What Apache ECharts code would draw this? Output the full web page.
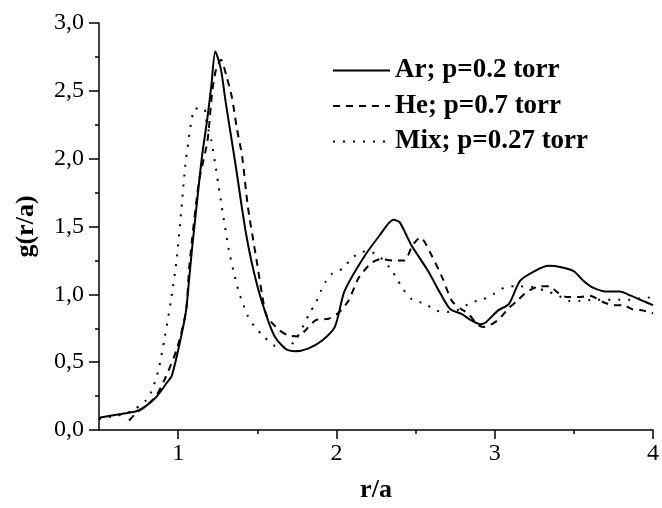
<!DOCTYPE html>
<html>
<head>
<meta charset="utf-8">
<script src="https://cdn.jsdelivr.net/npm/echarts@6/dist/echarts.min.js"></script>
<style>
html,body{margin:0;padding:0;background:#fff;}
#chart{width:662px;height:508px;}
</style>
</head>
<body>
<div id="chart"></div>
<script>
// ---- data ----
var seriesNames = ['Ar; p=0.2 torr', 'He; p=0.7 torr', 'Mix; p=0.27 torr'];
var xTickLabels = [1, 2, 3, 4];
var xHalfTicks = [1.5, 2.5, 3.5];

var arX = [0.5, 0.65, 0.74, 0.80, 0.86, 0.93, 0.96, 1.01, 1.05, 1.07, 1.09, 1.11, 1.15, 1.185, 1.21, 1.235, 1.27, 1.30, 1.335, 1.37, 1.40, 1.43, 1.46, 1.49, 1.52, 1.55, 1.58, 1.61, 1.65, 1.69, 1.74, 1.82, 1.91, 1.99, 2.05, 2.16, 2.27, 2.36, 2.40, 2.47, 2.58, 2.66, 2.72, 2.79, 2.85, 2.91, 2.94, 3.02, 3.09, 3.16, 3.25, 3.34, 3.42, 3.50, 3.56, 3.62, 3.71, 3.79, 3.86, 3.94, 4.0];
var arY = [0.09, 0.12, 0.14, 0.18, 0.24, 0.35, 0.40, 0.64, 0.88, 1.12, 1.36, 1.58, 2.01, 2.30, 2.54, 2.79, 2.66, 2.42, 2.16, 1.90, 1.66, 1.44, 1.26, 1.11, 0.98, 0.87, 0.77, 0.69, 0.63, 0.59, 0.58, 0.60, 0.66, 0.76, 1.02, 1.25, 1.43, 1.55, 1.53, 1.37, 1.17, 1.00, 0.89, 0.856, 0.81, 0.78, 0.79, 0.88, 0.93, 1.10, 1.17, 1.21, 1.20, 1.17, 1.10, 1.05, 1.02, 1.02, 0.99, 0.95, 0.92];

var heX = [0.69, 0.74, 0.80, 0.86, 0.91, 0.99, 1.05, 1.07, 1.13, 1.185, 1.215, 1.24, 1.27, 1.305, 1.34, 1.37, 1.405, 1.44, 1.48, 1.50, 1.53, 1.56, 1.635, 1.69, 1.76, 1.80, 1.87, 1.95, 2.01, 2.075, 2.14, 2.22, 2.28, 2.35, 2.43, 2.48, 2.53, 2.60, 2.67, 2.73, 2.79, 2.83, 2.90, 2.935, 3.02, 3.09, 3.14, 3.205, 3.29, 3.35, 3.39, 3.455, 3.54, 3.60, 3.69, 3.75, 3.81, 3.87, 3.94, 4.0];
var heY = [0.07, 0.13, 0.18, 0.25, 0.36, 0.59, 0.88, 1.20, 1.82, 2.13, 2.49, 2.66, 2.73, 2.61, 2.45, 2.23, 2.01, 1.65, 1.36, 1.22, 1.00, 0.84, 0.74, 0.70, 0.69, 0.73, 0.81, 0.82, 0.86, 0.95, 1.12, 1.23, 1.26, 1.25, 1.25, 1.36, 1.42, 1.29, 1.12, 0.95, 0.89, 0.86, 0.77, 0.76, 0.81, 0.90, 0.95, 1.02, 1.06, 1.06, 1.02, 0.98, 0.98, 0.99, 0.94, 0.92, 0.92, 0.89, 0.88, 0.86];

var mixX = [0.5, 0.58, 0.65, 0.72, 0.79, 0.83, 0.875, 0.915, 0.955, 0.99, 1.02, 1.045, 1.065, 1.086, 1.107, 1.164, 1.175, 1.19, 1.21, 1.233, 1.254, 1.275, 1.32, 1.35, 1.385, 1.41, 1.436, 1.478, 1.54, 1.61, 1.69, 1.75, 1.83, 1.87, 1.90, 1.93, 1.97, 2.04, 2.10, 2.16, 2.20, 2.28, 2.34, 2.38, 2.42, 2.48, 2.56, 2.63, 2.70, 2.78, 2.85, 2.92, 2.99, 3.06, 3.13, 3.26, 3.33, 3.39, 3.47, 3.54, 3.62, 3.79, 3.88, 3.95, 4.0];
var mixY = [0.08, 0.10, 0.114, 0.15, 0.21, 0.28, 0.44, 0.68, 0.96, 1.25, 1.62, 1.95, 2.13, 2.29, 2.37, 2.37, 2.30, 2.22, 2.13, 1.97, 1.81, 1.65, 1.33, 1.17, 1.01, 0.93, 0.85, 0.77, 0.69, 0.62, 0.61, 0.68, 0.86, 0.94, 1.02, 1.09, 1.15, 1.19, 1.27, 1.31, 1.32, 1.27, 1.19, 1.12, 1.04, 0.96, 0.93, 0.88, 0.87, 0.89, 0.94, 0.96, 1.00, 1.05, 1.06, 1.05, 1.02, 1.00, 0.95, 0.95, 0.96, 0.96, 0.96, 0.98, 0.97];

function pairs(xs, ys) { return xs.map(function (x, i) { return [x, ys[i]]; }); }

var FONT = 'Liberation Serif';
var chart = echarts.init(document.getElementById('chart'), null, { renderer: 'canvas' });

function lineSeries(name, data, type) {
  return {
    name: name, type: 'line', data: data, xAxisIndex: 0, yAxisIndex: 0,
    symbol: 'none', smooth: 0.25, silent: true,
    lineStyle: { color: '#000', width: 2, type: type, cap: 'butt' },
    itemStyle: { color: '#000' }
  };
}

chart.setOption({
  animation: false,
  backgroundColor: '#fff',
  grid: { left: 99, right: 6, top: 23, bottom: 69.5, containLabel: false },
  legend: {
    orient: 'vertical', left: 332, top: 57, padding: 0,
    itemWidth: 57, itemHeight: 14, itemGap: 8.5,
    data: seriesNames,
    itemStyle: { opacity: 0, borderWidth: 0 },
    textStyle: { fontFamily: FONT, fontWeight: 'bold', fontSize: 27, color: '#000', lineHeight: 27 },
    inactiveColor: '#000', selectedMode: false
  },
  xAxis: [{
    type: 'value', min: 0.5, max: 4,
    name: 'r/a', nameLocation: 'middle', nameGap: 47,
    nameTextStyle: { fontFamily: FONT, fontWeight: 'bold', fontSize: 26, color: '#000' },
    axisLine: { lineStyle: { color: '#000', width: 1.5 } },
    axisTick: { show: true, length: 9, customValues: xTickLabels, lineStyle: { color: '#000', width: 1.5 } },
    axisLabel: { customValues: xTickLabels, margin: 12, fontFamily: FONT, fontSize: 24, color: '#000' },
    splitLine: { show: false }
  }, {
    type: 'value', min: 0.5, max: 4, position: 'bottom', gridIndex: 0,
    axisLine: { show: false },
    axisTick: { show: true, length: 4, customValues: xHalfTicks, lineStyle: { color: '#000', width: 1.5 } },
    axisLabel: { show: false },
    splitLine: { show: false }
  }],
  yAxis: {
    type: 'value', min: 0, max: 3, interval: 0.5,
    name: 'g(r/a)', nameLocation: 'middle', nameGap: 60, nameRotate: 90,
    nameTextStyle: { fontFamily: FONT, fontWeight: 'bold', fontSize: 26, color: '#000' },
    axisLine: { show: true, lineStyle: { color: '#000', width: 1.5 } },
    axisTick: { show: true, length: 10, lineStyle: { color: '#000', width: 1.5 } },
    minorTick: { show: true, splitNumber: 2, length: 4, lineStyle: { color: '#000', width: 1.5 } },
    axisLabel: { margin: 15, fontFamily: FONT, fontSize: 24, color: '#000',
      formatter: function (v) { return v.toFixed(1).replace('.', ','); } },
    splitLine: { show: false }
  },
  series: [
    lineSeries(seriesNames[0], pairs(arX, arY), 'solid'),
    lineSeries(seriesNames[1], pairs(heX, heY), [7, 6]),
    lineSeries(seriesNames[2], pairs(mixX, mixY), [2, 8])
  ]
});
</script>
</body>
</html>
